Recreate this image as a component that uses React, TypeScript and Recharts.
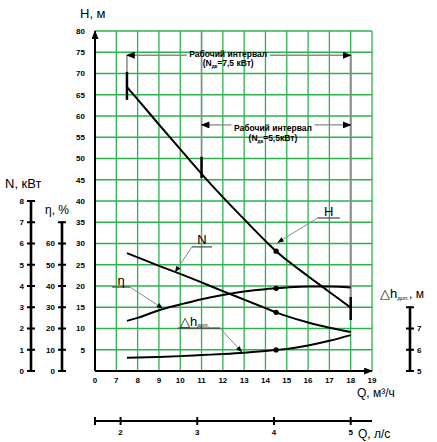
import React from 'react';
import { LineChart, Line, XAxis, YAxis, CartesianGrid, ReferenceLine } from 'recharts';

// ---------- data ----------
const Q_M3H = [7.5, 8, 9, 10, 11, 12, 13, 14, 14.5, 15, 16, 17, 18];
const H_M = [66.8, 63.9, 58.0, 52.2, 46.4, 40.9, 35.7, 30.6, 28.2, 26.1, 22.3, 18.6, 14.9];
const N_KW = [5.55, 5.35, 4.95, 4.57, 4.17, 3.76, 3.36, 2.96, 2.76, 2.58, 2.28, 2.04, 1.84];
const ETA_PCT = [23.6, 25.0, 28.6, 31.3, 33.8, 35.8, 37.4, 38.5, 38.9, 39.3, 39.8, 39.8, 39.3];
const DH_M = [5.62, 5.63, 5.66, 5.7, 5.75, 5.8, 5.86, 5.94, 5.99, 6.04, 6.2, 6.42, 6.69];
const MARK_Q = 14.5;

// ---------- ticks ----------
const Q_TICKS = [6, 7, 8, 9, 10, 11, 12, 13, 14, 15, 16, 17, 18, 19]; // 6 is printed as "0" (broken axis)
const Q_LS_TICKS = [2, 3, 4, 5];
const H_TICKS = [0, 5, 10, 15, 20, 25, 30, 35, 40, 45, 50, 55, 60, 65, 70, 75, 80];
const N_TICKS = [0, 1, 2, 3, 4, 5, 6, 7, 8];
const ETA_TICKS = [0, 10, 20, 30, 40, 50, 60, 70];
const ETA_LABELED_MAX = 60;
const DH_TICKS = [5, 6, 7, 8];
const DH_LABELED_MAX = 7;

// working intervals (Q m3/h)
const INTERVAL_1 = { from: 7.5, to: 18, h: 74.3, power: '7,5 кВт' };
const INTERVAL_2 = { from: 11, to: 18, h: 57.9, power: '5,5кВт' };

// ---------- layout ----------
const W = 437;
const HGT = 442;
const PLOT_TOP = 31;
const X_AXIS_H = 50;
const LS_AXIS_H = 21;
const PLOT_H = HGT - PLOT_TOP - X_AXIS_H - LS_AXIS_H;
const SEG = PLOT_H / 16;
const GRID = '#2cb34e';
const GRAY = '#8a8a8a';
const FONT = '"Liberation Sans", Arial, sans-serif';

const Q_MIN = Q_TICKS[0];
const Q_MAX = Q_TICKS[Q_TICKS.length - 1];

// axis ids (Recharts stacks same-side axes in id order)
const XQ = 'x1q';
const XLS = 'x2ls';
const YH = 'y1H';
const YETA = 'y2eta';
const YN = 'y3N';
const YDH = 'y4dh';

const ScaleTick = (props: any) => {
  const { x, y, payload, minV, maxLabel, side, shift = 0 } = props;
  const v = payload.value;
  const lx = x + shift;
  return (
    <g>
      {v > minV && <line x1={lx} x2={lx} y1={y - 1} y2={y + SEG + 1} stroke="#000" strokeWidth={2.6} />}
      <line x1={lx - 4} x2={lx + 4} y1={y} y2={y} stroke="#000" strokeWidth={2} />
      {v <= maxLabel && (
        <text
          x={side === 'left' ? lx - 7 : lx + 7}
          y={y}
          dy="0.35em"
          textAnchor={side === 'left' ? 'end' : 'start'}
          fontSize={8}
          fontWeight="bold"
          fill="#000"
        >
          {v}
        </text>
      )}
    </g>
  );
};

const LsTick = (props: any) => {
  const { x, y, payload } = props;
  const v = payload.value;
  const labeled = Q_LS_TICKS.includes(v);
  return (
    <g>
      <line x1={x} x2={x} y1={y - 4} y2={y + 4} stroke="#000" strokeWidth={2} />
      {labeled && (
        <text x={x} y={y + 14} textAnchor="middle" fontSize={8} fontWeight="bold" fill="#000">
          {v}
        </text>
      )}
    </g>
  );
};

const markerDot = (p: any) => {
  if (p.payload && p.payload.q === MARK_Q) {
    return <circle key={`d${p.index}`} cx={p.cx} cy={p.cy} r={2.6} fill="#000" />;
  }
  return <g key={`d${p.index}`} />;
};

const intervalLabel = (power: string, gap2: number) => (p: any) => {
  const vb = p.viewBox || {};
  const cx = vb.x + (vb.width || 0) / 2;
  const cy = vb.y;
  return (
    <g>
      <text x={cx} y={cy + 1.5} textAnchor="middle" fontSize={8.5} fontWeight="bold" fill="#000">
        Рабочий интервал
      </text>
      <text x={cx} y={cy + gap2} textAnchor="middle" fontSize={8.5} fontWeight="bold" fill="#000">
        (N<tspan fontSize={4.5} dy={1.5}>дв</tspan>
        <tspan dy={-1.5}>={power})</tspan>
      </text>
    </g>
  );
};

const curveLabel = (txt: string, sub?: string) => (p: any) => {
  const vb = p.viewBox || {};
  if (sub) {
    return (
      <text x={vb.x + 2} y={vb.y - 2} fontSize={13} fill="#000">
        {txt}
        <tspan fontSize={6} dy={1}>{sub}</tspan>
      </text>
    );
  }
  return (
    <text x={vb.x + (vb.width || 0) / 2} y={vb.y - 2.5} textAnchor="middle" fontSize={13} fill="#000">
      {txt}
    </text>
  );
};

export default function App() {
  const data = Q_M3H.map((q, i) => ({
    q,
    qls: q / 3.6,
    H: H_M[i],
    N: N_KW[i],
    eta: ETA_PCT[i],
    dh: DH_M[i],
  }));

  const ax = { xAxisId: XQ, yAxisId: YH };

  return (
    <div style={{ position: 'absolute', left: 0, top: 0, width: W, height: HGT, background: '#fff', fontFamily: FONT }}>
      <svg width={0} height={0} style={{ position: 'absolute' }}>
        <defs>
          <marker id="arrowHead" markerUnits="userSpaceOnUse" markerWidth={9} markerHeight={7} viewBox="0 0 10 8" refX={9} refY={4} orient="auto-start-reverse">
            <path d="M0,0 L10,4 L0,8 Z" fill="#000" />
          </marker>
          <marker id="smallArrow" markerUnits="userSpaceOnUse" markerWidth={7} markerHeight={5} viewBox="0 0 10 8" refX={10} refY={4} orient="auto-start-reverse">
            <path d="M0,0 L10,4 L0,8 Z" fill="#000" />
          </marker>
        </defs>
      </svg>
      <LineChart width={W} height={HGT} data={data} margin={{ top: PLOT_TOP, right: 0, bottom: 0, left: 0 }}>
        <CartesianGrid xAxisId={XQ} yAxisId={YH} stroke={GRID} strokeWidth={1.3} />
        <XAxis
          xAxisId={XQ}
          dataKey="q"
          type="number"
          domain={[Q_MIN, Q_MAX]}
          ticks={Q_TICKS}
          allowDataOverflow
          height={X_AXIS_H}
          interval={0}
          tickLine={false}
          tickSize={4}
          tickMargin={2}
          tickFormatter={(v: number) => (v === Q_MIN ? '0' : String(v))}
          tick={{ fontSize: 8, fontWeight: 'bold', fill: '#000' }}
          axisLine={{ stroke: '#000', strokeWidth: 2, markerEnd: 'url(#arrowHead)' }}
        />
        <XAxis
          xAxisId={XLS}
          dataKey="qls"
          type="number"
          domain={[Q_MIN / 3.6, Q_MAX / 3.6]}
          ticks={[Q_MIN / 3.6, ...Q_LS_TICKS]}
          allowDataOverflow
          height={LS_AXIS_H}
          interval={0}
          tickLine={false}
          tickSize={0}
          tickMargin={0}
          tick={(p: any) => <LsTick {...p} />}
          axisLine={{ stroke: '#000', strokeWidth: 2 }}
        />
        <YAxis
          yAxisId={YH}
          type="number"
          domain={[0, 80]}
          ticks={H_TICKS}
          allowDataOverflow
          width={33}
          interval={0}
          tickLine={false}
          tickSize={6}
          tickMargin={4}
          tickFormatter={(v: number) => (v === 0 ? '' : String(v))}
          tick={{ fontSize: 8, fontWeight: 'bold', fill: '#000' }}
          axisLine={{ stroke: '#000', strokeWidth: 2, markerStart: 'url(#arrowHead)' }}
        />
        <YAxis
          yAxisId={YETA}
          type="number"
          domain={[0, 160]}
          ticks={ETA_TICKS}
          allowDataOverflow
          width={31}
          interval={0}
          axisLine={false}
          tickLine={false}
          tickSize={0}
          tickMargin={0}
          tick={(p: any) => <ScaleTick {...p} minV={0} maxLabel={ETA_LABELED_MAX} side="left" />}
        />
        <YAxis
          yAxisId={YN}
          type="number"
          domain={[0, 16]}
          ticks={N_TICKS}
          allowDataOverflow
          width={31}
          interval={0}
          axisLine={false}
          tickLine={false}
          tickSize={0}
          tickMargin={0}
          tick={(p: any) => <ScaleTick {...p} minV={0} maxLabel={8} side="left" />}
        />
        <YAxis
          yAxisId={YDH}
          orientation="right"
          type="number"
          domain={[5, 21]}
          ticks={DH_TICKS}
          allowDataOverflow
          width={65}
          interval={0}
          axisLine={false}
          tickLine={false}
          tickSize={0}
          tickMargin={0}
          tick={(p: any) => <ScaleTick {...p} minV={5} maxLabel={DH_LABELED_MAX} side="right" shift={38} />}
        />

        {/* working interval markers */}
        <ReferenceLine {...ax} segment={[{ x: INTERVAL_1.from, y: INTERVAL_1.h }, { x: INTERVAL_1.from, y: 70.4 }]} stroke={GRAY} strokeWidth={1.5} />
        <ReferenceLine {...ax} segment={[{ x: INTERVAL_1.from, y: 70.4 }, { x: INTERVAL_1.from, y: 63.8 }]} stroke="#000" strokeWidth={2.5} />
        <ReferenceLine {...ax} segment={[{ x: INTERVAL_2.from, y: 80 }, { x: INTERVAL_2.from, y: 50.4 }]} stroke={GRAY} strokeWidth={1.5} />
        <ReferenceLine {...ax} segment={[{ x: INTERVAL_2.from, y: 50.4 }, { x: INTERVAL_2.from, y: 45.4 }]} stroke="#000" strokeWidth={2.5} />
        <ReferenceLine {...ax} segment={[{ x: INTERVAL_1.to, y: INTERVAL_1.h }, { x: INTERVAL_1.to, y: 17.4 }]} stroke={GRAY} strokeWidth={2} />
        <ReferenceLine {...ax} segment={[{ x: INTERVAL_1.to, y: 17.4 }, { x: INTERVAL_1.to, y: 12 }]} stroke="#000" strokeWidth={2.5} />

        <ReferenceLine {...ax} segment={[{ x: INTERVAL_1.from, y: INTERVAL_1.h }, { x: 10.3, y: INTERVAL_1.h }]} stroke={GRAY} strokeWidth={1.3} markerStart="url(#arrowHead)" />
        <ReferenceLine {...ax} segment={[{ x: 14.2, y: INTERVAL_1.h }, { x: INTERVAL_1.to, y: INTERVAL_1.h }]} stroke={GRAY} strokeWidth={1.3} markerEnd="url(#arrowHead)" />
        <ReferenceLine {...ax} segment={[{ x: 10.3, y: INTERVAL_1.h }, { x: 14.2, y: INTERVAL_1.h }]} stroke="none" label={intervalLabel(INTERVAL_1.power, 11)} />

        <ReferenceLine {...ax} segment={[{ x: INTERVAL_2.from, y: INTERVAL_2.h }, { x: 12.4, y: INTERVAL_2.h }]} stroke={GRAY} strokeWidth={1.3} markerStart="url(#arrowHead)" />
        <ReferenceLine {...ax} segment={[{ x: 16.3, y: INTERVAL_2.h }, { x: INTERVAL_2.to, y: INTERVAL_2.h }]} stroke={GRAY} strokeWidth={1.3} markerEnd="url(#arrowHead)" />
        <ReferenceLine {...ax} segment={[{ x: 12.4, y: INTERVAL_2.h - 1 }, { x: 16.3, y: INTERVAL_2.h - 1 }]} stroke="none" label={intervalLabel(INTERVAL_2.power, 12)} />

        {/* curves */}
        <Line xAxisId={XQ} yAxisId={YH} dataKey="H" type="monotone" stroke="#000" strokeWidth={2} dot={markerDot} activeDot={false} isAnimationActive={false} />
        <Line xAxisId={XQ} yAxisId={YN} dataKey="N" type="monotone" stroke="#000" strokeWidth={2} dot={markerDot} activeDot={false} isAnimationActive={false} />
        <Line xAxisId={XQ} yAxisId={YETA} dataKey="eta" type="monotone" stroke="#000" strokeWidth={2} dot={markerDot} activeDot={false} isAnimationActive={false} />
        <Line xAxisId={XQ} yAxisId={YDH} dataKey="dh" type="monotone" stroke="#000" strokeWidth={2} dot={markerDot} activeDot={false} isAnimationActive={false} />

        {/* curve labels with leaders */}
        <ReferenceLine {...ax} segment={[{ x: 16.45, y: 36.0 }, { x: 17.49, y: 36.0 }]} stroke="#444" strokeWidth={1.2} label={curveLabel('H')} />
        <ReferenceLine {...ax} segment={[{ x: 16.45, y: 36.0 }, { x: 14.56, y: 30.2 }]} stroke={GRAY} strokeWidth={1} markerEnd="url(#smallArrow)" />

        <ReferenceLine {...ax} segment={[{ x: 10.55, y: 29.2 }, { x: 11.49, y: 29.2 }]} stroke="#444" strokeWidth={1.2} label={curveLabel('N')} />
        <ReferenceLine {...ax} segment={[{ x: 10.55, y: 29.2 }, { x: 9.75, y: 23.2 }]} stroke={GRAY} strokeWidth={1} markerEnd="url(#smallArrow)" />

        <ReferenceLine {...ax} segment={[{ x: 6.8, y: 19.76 }, { x: 7.64, y: 19.76 }]} stroke="#444" strokeWidth={1.2} label={curveLabel('η')} />
        <ReferenceLine {...ax} segment={[{ x: 7.64, y: 19.76 }, { x: 9.19, y: 14.7 }]} stroke={GRAY} strokeWidth={1} markerEnd="url(#smallArrow)" />

        <ReferenceLine {...ax} segment={[{ x: 9.9, y: 10.1 }, { x: 11.87, y: 10.1 }]} stroke="#444" strokeWidth={1.2} label={curveLabel('△h', 'доп.')} />
        <ReferenceLine {...ax} segment={[{ x: 11.87, y: 10.1 }, { x: 12.9, y: 4.4 }]} stroke={GRAY} strokeWidth={1} markerEnd="url(#smallArrow)" />
      </LineChart>

      <svg width={W} height={HGT} style={{ position: 'absolute', left: 0, top: 0, pointerEvents: 'none' }}>
        <text x={80} y={18} fontSize={13} fill="#000">H, м</text>
        <text x={5} y={188} fontSize={13} fill="#000">N, кВт</text>
        <text x={45} y={214} fontSize={12} fill="#000">η, %</text>
        <text x={380} y={298} fontSize={13} fill="#000">
          △h<tspan fontSize={6} dy={2}>доп.</tspan>
          <tspan fontSize={12} dy={-2}>, м</tspan>
        </text>
        <text x={357} y={397} fontSize={12} fill="#000">
          Q, м³/ч
        </text>
        <text x={358} y={438} fontSize={12} fill="#000">Q, л/с</text>
      </svg>
    </div>
  );
}
